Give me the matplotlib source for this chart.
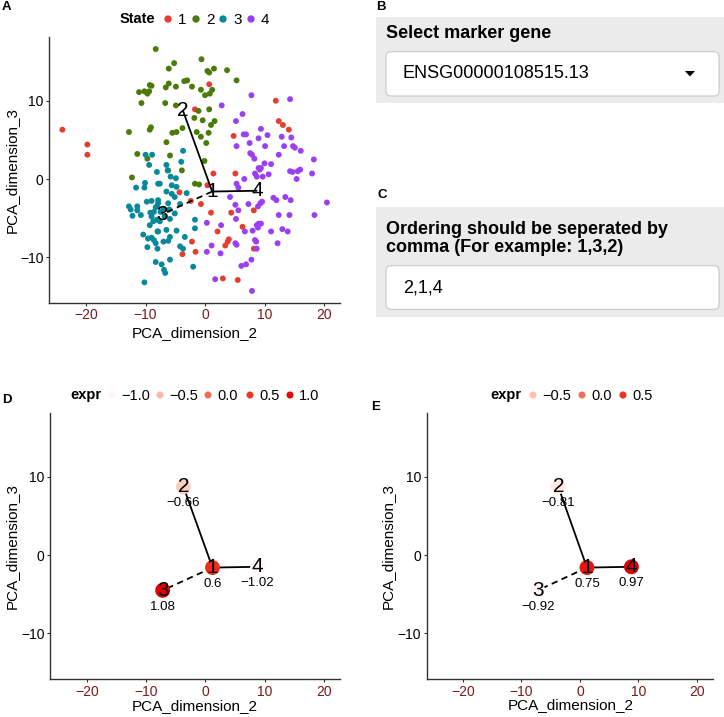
import numpy as np
import matplotlib.pyplot as plt
from matplotlib.colors import LinearSegmentedColormap, Normalize
from matplotlib.patches import FancyBboxPatch, Rectangle, Polygon

plt.rcParams['font.family'] = ['Liberation Sans', 'DejaVu Sans']

W, H = 724, 717

# cellules par etat (PCA_dimension_2, PCA_dimension_3)
state1_x = [-24.0, -19.8, -19.8, 0.7, -1.7, 4.8, 11.9, 12.4, 13.1, 14.1, 1.4, 5.1, 0.4, -4.3, -2.4,
            -0.7, 1.0, 4.4, 8.2, 6.3, 2.1, -2.2, 4.0, 3.8, 3.4, -1.6, -3.8, 8.2, 3.0, 5.5]
state1_y = [6.3, 4.4, 3.1, 12.1, 8.9, 5.5, 10.0, 7.4, 6.9, 6.3, 0.7, 0.7, -0.8, -1.7, -2.8,
            -3.2, -4.3, -4.3, -4.0, -6.1, -6.7, -8.0, -7.7, -8.0, -8.5, -9.3, -9.6, -8.9, -12.7, -12.9]

state2_x = [-8.3, -9.3, -9.0, -11.1, -10.2, -9.7, -9.4, -10.7, -12.8, -9.3, -9.1, -11.4, -9.7, -12.3,
            -5.2, -6.1, 0.4, 0.7, 1.5, 3.7, 5.3, -6.1, -6.6, -4.9, -3.5, -3.0, -2.2, -0.7, 0.0, 0.8,
            1.2, -0.6, -6.7, -4.9, -1.1, 0.7, -1.8, -0.4, 1.6, 1.0, -5.5, -4.8, -3.8, -1.4, -0.7,
            0.6, 0.2, -6.5, -5.9, -0.1, -3.9, -1.7, -1.0, -6.2]
state2_y = [16.6, 12.0, 11.9, 11.1, 11.2, 10.9, 11.2, 9.7, 6.0, 6.3, 6.6, 3.2, 2.6, 0.2,
            14.8, 14.1, 13.8, 13.6, 14.1, 13.9, 12.6, 12.2, 11.7, 11.8, 12.5, 12.6, 11.8, 11.4, 10.7, 10.9,
            11.4, 15.3, 9.7, 9.4, 8.7, 8.9, 7.8, 7.5, 7.4, 6.9, 5.9, 6.0, 6.5, 6.0, 5.4,
            5.9, 4.6, 4.7, 3.0, 2.3, 1.1, -0.6, -0.7, 1.1]

state3_x = [-10.0, -8.9, -9.4, -8.1, -10.1, -11.6, -10.2, -7.9, -9.8, -9.0,
            -12.8, -12.5, -11.4, -11.4, -12.2, -10.8, -9.2, -8.6, -8.3, -7.9,
            -9.0, -8.1, -8.7, -9.3, -8.0, -10.4, -9.6, -9.0, -8.6, -8.3,
            -9.7, -8.0, -8.3, -10.2, -7.6, -5.8, -4.9, -5.6, -6.5, -5.6,
            -4.8, -5.1, -3.1, -7.9, -8.1, -6.2, -4.2, -5.1, -5.9, -7.6,
            -7.9, -6.5, -4.8, -3.4, -5.9, -6.2, -7.0, -4.2, -3.7, -1.7,
            -1.7, -2.0, -5.9, -7.3, -6.9, -6.7, -3.7, -4.0, -6.5, -6.3,
            -7.0, -6.8, -7.5, -6.0]
state3_y = [3.1, 3.1, 1.8, 0.9, -0.5, -1.1, -1.1, -0.6, -2.9, -2.8,
            -3.5, -3.9, -3.5, -4.0, -4.7, -4.6, -4.3, -4.2, -3.6, -3.1,
            -4.8, -5.2, -5.4, -5.9, -6.7, -7.1, -7.6, -7.5, -7.8, -8.2,
            -8.7, -8.9, -10.6, -13.2, -0.6, 0.3, 0.1, -0.8, -1.6, -1.9,
            -1.0, -2.3, -1.8, -2.7, -3.5, -3.1, -3.2, -4.4, -5.1, -5.4,
            -6.7, -6.5, -6.6, -7.4, -7.4, -7.9, -8.0, -8.6, -8.9, -5.2,
            -6.3, -11.2, -10.3, -10.9, -11.6, -12.0, 3.6, 2.2, 1.8, 1.1,
            -3.8, -4.8, -4.2, -3.9]

state4_x = [2.8, 7.8, 6.3, 5.2, 6.5, 6.9, 7.5, 5.3, 7.6, 7.9,
            8.3, 9.0, 8.4, 14.3, 9.4, 9.0, 10.5, 12.9, 14.5, 10.1,
            13.3, 14.8, 15.1, 16.1, 12.4, 18.3, 10.0, 11.1, 9.4, 9.2,
            10.7, 14.3, 14.7, 15.6, 16.0, 18.0, 15.4, 8.7, 9.7, 9.3,
            9.6, 8.9, 11.5, 12.0, 13.5, 14.4, 20.5, 12.4, 14.2, 18.4,
            9.0, 9.4, 8.9, 11.1, 13.0, 13.9, 8.6, 12.2, 6.6, 5.3,
            5.6, 4.2, 7.3, 5.1, 5.6, 5.2, 0.3, 2.7, 6.7, 8.0,
            8.7, 5.3, 5.1, 1.1, 0.3, 2.6, 6.1, 6.9, 7.8, 8.4,
            8.7, 1.7, 7.9]
state4_y = [9.4, 10.7, 8.3, 7.4, 5.7, 5.7, 4.6, 4.2, 3.3, 3.1,
            2.6, 1.4, 0.7, 10.2, 6.4, 5.2, 5.6, 5.4, 5.3, 4.2,
            4.2, 4.2, 4.0, 3.6, 3.1, 2.5, 2.0, 1.9, 1.4, 1.2,
            0.6, 1.0, 0.9, 1.0, 1.2, 0.7, 0.0, 0.3, 0.3, -3.1,
            -2.9, -3.5, -2.4, -2.7, -2.3, -2.7, -3.0, -4.6, -4.6, -4.6,
            -5.7, -5.7, -6.2, -6.7, -6.4, -6.7, -8.0, -8.2, 0.0, -0.6,
            -1.1, -2.3, -3.2, -3.3, -4.0, -5.1, -5.6, -5.9, -6.7, -6.6,
            -5.9, -8.4, -8.2, -8.5, -9.3, -9.5, -11.1, -10.9, -10.3, -7.8,
            -8.9, -12.8, -14.3]

states = ['1', '2', '3', '4']
state_colors = ['#E53E30', '#4A7B08', '#08899A', '#9A40F2']

# arbre des etats
nodes = ['1', '2', '3', '4']
node_x = [1.2, -3.7, -7.2, 8.8]
node_y = [-1.6, 8.7, -4.5, -1.5]
edges_solid = [('2', '1'), ('1', '4')]
edges_dashed = [('1', '3')]

# expression par etat
expr_d = [0.6, -0.66, 1.08, -1.02]
expr_e = [0.75, -0.81, -0.92, 0.97]
breaks_d = [-1.0, -0.5, 0.0, 0.5, 1.0]
breaks_e = [-0.5, 0.0, 0.5]

cmap = LinearSegmentedColormap.from_list(
    'expr', ['#FFF7F4', '#F9BAA7', '#F36A53', '#EC3320', '#DF0000'])

XLIM = (-26.2, 22.7)
YLIM = (-15.8, 18.1)
TICKCOL = '#7A1A1A'


def px_box(l, t, r, b):
    return [l / W, 1 - b / H, (r - l) / W, (b - t) / H]


def style(ax):
    ax.set_xlim(*XLIM)
    ax.set_ylim(*YLIM)
    for s in ['top', 'right']:
        ax.spines[s].set_visible(False)
    for s in ['left', 'bottom']:
        ax.spines[s].set_color('#333333')
        ax.spines[s].set_linewidth(1.0)
    ax.set_xticks([-20, -10, 0, 10, 20])
    ax.set_yticks([-10, 0, 10])
    ax.tick_params(length=2.5, width=0.8, color='#333333', labelsize=10, pad=1.5)
    ax.tick_params(axis='x', labelcolor=TICKCOL)
    ax.tick_params(axis='y', labelcolor='black')
    ax.patch.set_alpha(0)


def draw_tree(ax):
    idx = {n: i for i, n in enumerate(nodes)}
    for a, b in edges_solid:
        ax.plot([node_x[idx[a]], node_x[idx[b]]], [node_y[idx[a]], node_y[idx[b]]],
                color='black', lw=1.3, zorder=3, solid_capstyle='butt')
    for a, b in edges_dashed:
        ax.plot([node_x[idx[a]], node_x[idx[b]]], [node_y[idx[a]], node_y[idx[b]]],
                color='black', lw=1.3, zorder=3, linestyle=(0, (3.5, 2.5)))


def node_labels(ax):
    for n, x, y in zip(nodes, node_x, node_y):
        ax.text(x, y, n, fontsize=15, ha='center', va='center', zorder=6)


def expr_panel(ax, vals):
    norm = Normalize(min(vals), max(vals))
    draw_tree(ax)
    ax.scatter(node_x, node_y, s=115, c=[cmap(norm(v)) for v in vals], edgecolors='none', zorder=4)
    node_labels(ax)
    for x, y, v in zip(node_x, node_y, vals):
        ax.annotate(f"{v:g}".replace('-', '\u2212'), (x, y), xytext=(0, -12),
                    textcoords='offset points', ha='center', va='center', fontsize=9.5, zorder=6)
    return norm


fig = plt.figure(figsize=(W / 100, H / 100), dpi=100)
fig.patch.set_facecolor('white')

# overlay en pixels pour legendes, lettres et widgets
ov = fig.add_axes([0, 0, 1, 1], zorder=5)
ov.set_xlim(0, W)
ov.set_ylim(H, 0)
ov.axis('off')
ov.patch.set_alpha(0)

# ---- A ----
axA = fig.add_axes(px_box(49.3, 37.3, 340, 302.7))
style(axA)
for xs, ys, col in zip([state1_x, state2_x, state3_x, state4_x],
                       [state1_y, state2_y, state3_y, state4_y], state_colors):
    axA.scatter(xs, ys, s=18, color=col, edgecolors='none', zorder=2)
draw_tree(axA)
node_labels(axA)

ov.text(120, 19, 'State', fontsize=10.5, weight='bold', ha='left', va='center')
for dx, lab, col in zip([168, 196, 223, 251], states, state_colors):
    ov.scatter([dx], [19], s=28, color=col, edgecolors='none')
    ov.text(dx + 10, 19.5, lab, fontsize=11, ha='left', va='center')

ov.text(195, 333, 'PCA_dimension_2', fontsize=11, ha='center', va='center')
ov.text(12, 170, 'PCA_dimension_3', fontsize=11, ha='center', va='center', rotation=90)

# ---- D ----
axD = fig.add_axes(px_box(50, 413, 340, 679))
style(axD)
normD = expr_panel(axD, expr_d)
ov.text(70, 395, 'expr', fontsize=10.5, weight='bold', ha='left', va='center')
for dx, v in zip([112, 160, 208, 250, 290], breaks_d):
    ov.scatter([dx], [395], s=26, color=cmap(normD(v)), edgecolors='none')
    ov.text(dx + 9, 395.5, f"{v:.1f}".replace('-', '\u2212'), fontsize=10.5, ha='left', va='center')
ov.text(195, 706, 'PCA_dimension_2', fontsize=11, ha='center', va='center')
ov.text(12, 546, 'PCA_dimension_3', fontsize=11, ha='center', va='center', rotation=90)

# ---- E ----
axE = fig.add_axes(px_box(426.7, 413, 712.7, 679))
style(axE)
normE = expr_panel(axE, expr_e)
ov.text(490, 395, 'expr', fontsize=10.5, weight='bold', ha='left', va='center')
for dx, v in zip([533, 582, 623], breaks_e):
    ov.scatter([dx], [395], s=26, color=cmap(normE(v)), edgecolors='none')
    ov.text(dx + 9, 395.5, f"{v:.1f}".replace('-', '\u2212'), fontsize=10.5, ha='left', va='center')
ov.text(571, 705, 'PCA_dimension_2', fontsize=11, ha='center', va='center')
ov.text(388, 546, 'PCA_dimension_3', fontsize=11, ha='center', va='center', rotation=90)

# ---- B ----
ov.add_patch(Rectangle((376, 17.3), W - 376, 86, facecolor='#EBEBEB', edgecolor='none'))
ov.text(386, 34, 'Select marker gene', fontsize=13, weight='bold', ha='left', va='center')
ov.add_patch(FancyBboxPatch((386, 51.7), 333, 44.3, boxstyle='round,pad=0,rounding_size=5',
                            facecolor='white', edgecolor='#C8C8C8', lw=0.8))
ov.text(402, 74, 'ENSG00000108515.13', fontsize=13, ha='left', va='center')
ov.add_patch(Polygon([(685, 71), (695, 71), (690, 76.5)], closed=True, facecolor='black', edgecolor='none'))

# ---- C ----
ov.add_patch(Rectangle((376, 206.7), W - 376, 110, facecolor='#EBEBEB', edgecolor='none'))
ov.text(386, 230, 'Ordering should be seperated by', fontsize=13, weight='bold', ha='left', va='center')
ov.text(386, 248, 'comma (For example: 1,3,2)', fontsize=13, weight='bold', ha='left', va='center')
ov.add_patch(FancyBboxPatch((386, 265.7), 333, 43.6, boxstyle='round,pad=0,rounding_size=5',
                            facecolor='white', edgecolor='#C8C8C8', lw=0.8))
ov.text(403, 288, '2,1,4', fontsize=13, ha='left', va='center')

# lettres des panneaux
for lab, x, y in [('A', 6, 7), ('B', 380.5, 7), ('C', 382, 194.5), ('D', 7, 400), ('E', 376, 407)]:
    ov.text(x, y, lab, fontsize=9.5, weight='bold', ha='center', va='center')

fig.savefig('out.png', dpi=100, facecolor='white')
